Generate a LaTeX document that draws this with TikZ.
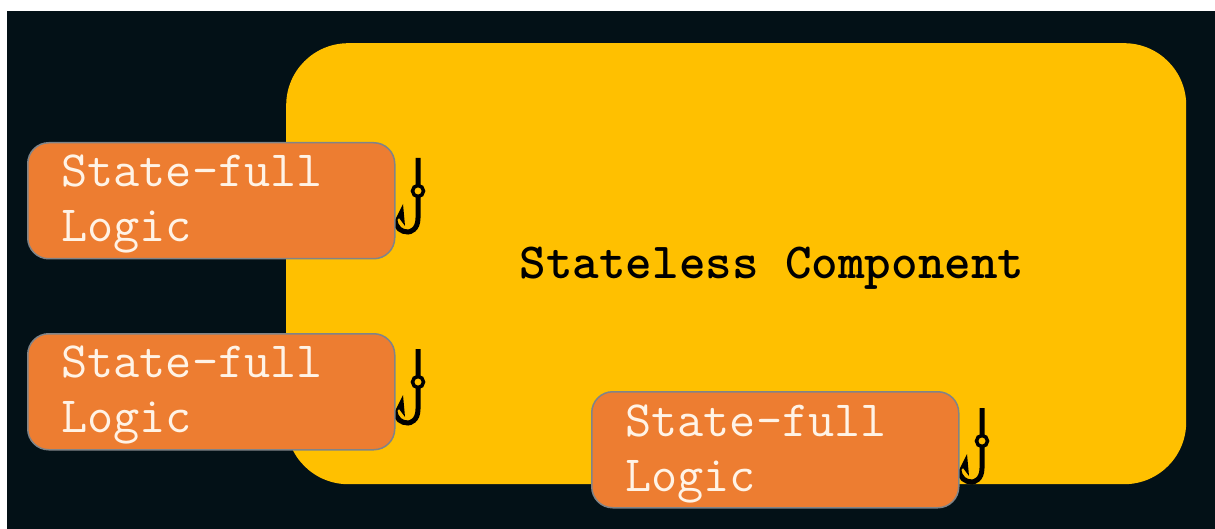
\documentclass[tikz,border=0pt]{standalone}
\usepackage{fontspec}
\definecolor{bgdark}{HTML}{031117}
\definecolor{amberfill}{HTML}{FFC000}
\definecolor{orangefill}{HTML}{ED7D31}
\definecolor{boxedge}{HTML}{808488}
\definecolor{softwhite}{HTML}{FFF3E6}
\tikzset{
  x=1pt,y=-1pt,
  statebox/.style={draw=boxedge,line width=1.5pt,fill=orangefill,rounded corners=21pt,minimum width=367pt,minimum height=116pt,inner sep=0pt,anchor=north west},
  statetext/.style={text=softwhite,font=\ttfamily\fontsize{50.8}{55}\selectfont,align=left,anchor=north west,inner sep=0pt},
  hookline/.style={draw=black,line width=5pt,line cap=butt},
  hook/.pic={
    \draw[hookline] (0,0) -- (0,28) (0,38) -- (0,60) .. controls (0,72) and (-8,74) .. (-10,74) .. controls (-17,74) and (-22,70) .. (-23,62);
    \fill[black] (-25,66) -- (-15,46) -- (-13,68) -- (-19,60) -- cycle;
    \draw[black,line width=3.5pt,fill=amberfill] (0,33) circle (5.5);
  }
}
\begin{document}
\begin{tikzpicture}
\useasboundingbox (0,0) rectangle (1215,529);
\fill[white] (0,0) rectangle (1215,529);
\fill[bgdark] (7,11) rectangle (1215,529);
\node[fill=amberfill,rounded corners=62pt,minimum width=900pt,minimum height=441pt,inner sep=0pt,anchor=north west] (main) at (286,43) {};
\node[font=\ttfamily\fontsize{50.6}{55}\selectfont\bfseries,text=black,inner sep=0pt] (title) at (772,268) {Stateless Component};
\pic at (418,158) {hook};
\pic at (418,349) {hook};
\pic at (982,408) {hook};
\node[statebox] (a) at (27,142) {};
\node[statebox] (b) at (27,333) {};
\node[statebox] (c) at (591,391) {};
\node[statetext] (ta) at (61,155) {State-full\\Logic};
\node[statetext] (tb) at (61,346) {State-full\\Logic};
\node[statetext] (tc) at (625,405) {State-full\\Logic};
\end{tikzpicture}
\end{document}
